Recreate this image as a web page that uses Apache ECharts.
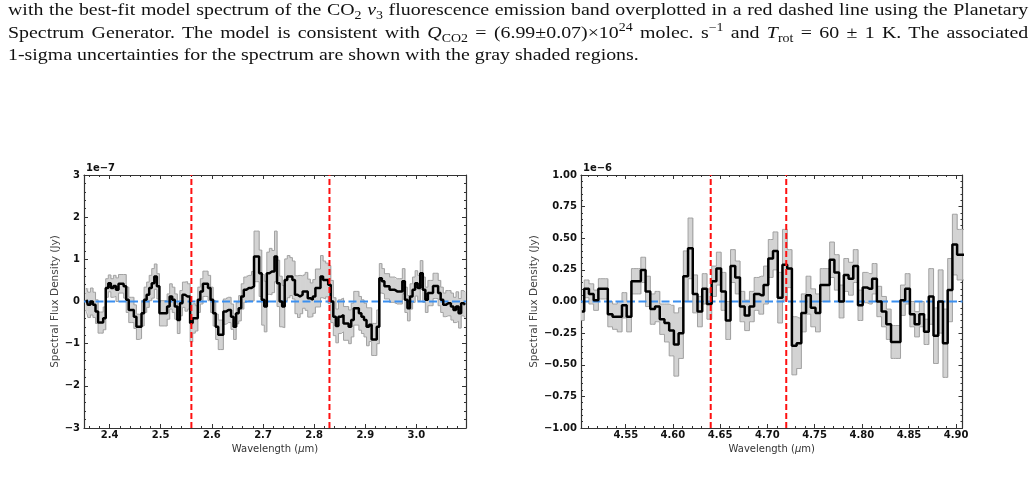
<!DOCTYPE html>
<html>
<head>
<meta charset="UTF-8">
<script src="https://cdn.jsdelivr.net/npm/echarts@6/dist/echarts.min.js"></script>
<style>
  body { margin: 0; background: #fff; }
  #chart { position: absolute; left: 0; top: 0; width: 1035px; height: 483px; }
  #caption { position: absolute; left: 8px; top: -1px; width: 872px; z-index: 2;
             transform: scaleX(1.17); transform-origin: 0 0;
             font-family: "Liberation Serif", serif; font-size: 17px; line-height: 22.5px; color: #111; }
  #caption div { white-space: nowrap; }
  #caption .j { text-align: justify; text-align-last: justify; white-space: normal; }
  #caption sub, #caption sup { font-size: 70%; line-height: 0; }
</style>
</head>
<body>
<div id="chart"></div>
<div id="caption">
  <div class="j">with the best-fit model spectrum of the CO<sub>2</sub> <i>ν</i><sub>3</sub> fluorescence emission band overplotted in a red dashed line using the Planetary</div>
  <div class="j">Spectrum Generator. The model is consistent with <i>Q</i><sub>CO2</sub> = (6.99±0.07)×10<sup>24</sup> molec. s<sup>−1</sup> and <i>T</i><sub>rot</sub> = 60 ± 1 K. The associated</div>
  <div>1-sigma uncertainties for the spectrum are shown with the gray shaded regions.</div>
</div>
<script type="text/javascript">
// left panel: wavelength (um), flux and 1-sigma in units of 1e-7 Jy
var leftWave = [
  2.355, 2.360, 2.365, 2.370, 2.375, 2.380, 2.385, 2.390, 2.395, 2.400,
  2.405, 2.410, 2.415, 2.420, 2.425, 2.430, 2.435, 2.440, 2.445, 2.450,
  2.455, 2.460, 2.465, 2.470, 2.475, 2.480, 2.485, 2.490, 2.495, 2.500,
  2.505, 2.510, 2.515, 2.520, 2.525, 2.530, 2.535, 2.540, 2.545, 2.550,
  2.555, 2.560, 2.565, 2.570, 2.575, 2.580, 2.585, 2.590, 2.595, 2.600,
  2.605, 2.610, 2.615, 2.620, 2.625, 2.630, 2.635, 2.640, 2.645, 2.650,
  2.655, 2.660, 2.665, 2.670, 2.675, 2.680, 2.685, 2.690, 2.695, 2.700,
  2.705, 2.710, 2.715, 2.720, 2.725, 2.730, 2.735, 2.740, 2.745, 2.750,
  2.755, 2.760, 2.765, 2.770, 2.775, 2.780, 2.785, 2.790, 2.795, 2.800,
  2.805, 2.810, 2.815, 2.820, 2.825, 2.830, 2.835, 2.840, 2.845, 2.850,
  2.855, 2.860, 2.865, 2.870, 2.875, 2.880, 2.885, 2.890, 2.895, 2.900,
  2.905, 2.910, 2.915, 2.920, 2.925, 2.930, 2.935, 2.940, 2.945, 2.950,
  2.955, 2.960, 2.965, 2.970, 2.975, 2.980, 2.985, 2.990, 2.995, 3.000,
  3.005, 3.010, 3.015, 3.020, 3.025, 3.030, 3.035, 3.040, 3.045, 3.050,
  3.055, 3.060, 3.065, 3.070, 3.075, 3.080, 3.085, 3.090, 3.095
];
var leftFlux = [
  0.04, -0.08, 0.0, -0.08, -0.24, -0.5, -0.5, -0.4, 0.32, 0.43,
  0.32, 0.37, 0.28, 0.42, 0.42, 0.36, 0.04, -0.2, -0.2, -0.36,
  -0.6, -0.6, -0.28, 0.04, 0.16, 0.32, 0.43, 0.59, 0.36, -0.28,
  -0.28, -0.28, -0.12, 0.12, 0.04, -0.12, -0.44, -0.04, 0.16, 0.12,
  0.12, -0.51, -0.4, -0.4, 0.04, 0.24, 0.42, 0.42, 0.32, 0.04,
  -0.28, -0.6, -0.79, -0.79, -0.24, -0.2, -0.2, -0.36, -0.6, -0.28,
  -0.16, 0.12, 0.28, 0.32, 0.32, 0.36, 1.07, 1.07, 0.67, 0.04,
  -0.12, 0.67, 0.71, 0.71, 1.07, 0.43, 0.0, -0.12, 0.51, 0.59,
  0.59, 0.51, 0.16, 0.12, 0.16, 0.24, 0.24, 0.08, 0.04, 0.12,
  0.32, 0.32, 0.59, 0.51, 0.51, 0.4, 0.0, -0.36, -0.58, -0.36,
  -0.32, -0.52, -0.52, -0.6, -0.44, -0.16, -0.16, -0.28, -0.36, -0.44,
  -0.6, -0.55, -0.9, -0.9, -0.6, 0.55, 0.48, 0.36, 0.36, 0.28,
  0.28, 0.24, 0.24, 0.24, 0.48, 0.04, -0.16, 0.12, 0.28, 0.43,
  0.32, 0.67, 0.28, 0.04, 0.2, 0.2, 0.37, 0.37, 0.2, 0.04,
  -0.08, -0.04, -0.04, -0.12, -0.2, -0.12, -0.28, -0.04, -0.08
];
var leftErr = [
  0.28, 0.3, 0.32, 0.3, 0.28, 0.25, 0.25, 0.27, 0.22, 0.2,
  0.22, 0.25, 0.28, 0.22, 0.22, 0.28, 0.3, 0.3, 0.3, 0.28,
  0.3, 0.28, 0.3, 0.3, 0.3, 0.3, 0.35, 0.3, 0.3, 0.3,
  0.3, 0.3, 0.3, 0.3, 0.3, 0.3, 0.32, 0.3, 0.3, 0.35,
  0.3, 0.45, 0.35, 0.3, 0.3, 0.3, 0.3, 0.3, 0.3, 0.3,
  0.3, 0.3, 0.35, 0.35, 0.3, 0.3, 0.3, 0.3, 0.3, 0.25,
  0.3, 0.3, 0.3, 0.3, 0.3, 0.35, 0.6, 0.6, 0.55, 0.6,
  0.6, 0.5, 0.55, 0.5, 0.6, 0.55, 0.6, 0.5, 0.5, 0.5,
  0.45, 0.45, 0.45, 0.5, 0.45, 0.4, 0.45, 0.45, 0.4, 0.4,
  0.45, 0.45, 0.5, 0.45, 0.4, 0.45, 0.5, 0.45, 0.4, 0.4,
  0.4, 0.4, 0.4, 0.4, 0.4, 0.4, 0.4, 0.4, 0.4, 0.4,
  0.45, 0.4, 0.38, 0.38, 0.4, 0.35, 0.3, 0.3, 0.3, 0.3,
  0.3, 0.3, 0.3, 0.3, 0.3, 0.3, 0.3, 0.3, 0.3, 0.3,
  0.3, 0.3, 0.3, 0.3, 0.3, 0.3, 0.3, 0.3, 0.3, 0.3,
  0.28, 0.3, 0.3, 0.32, 0.3, 0.35, 0.35, 0.3, 0.3
];
var leftBand = [2.56, 2.83];
var leftRange = [2.35, 3.097];

// right panel: wavelength (um), flux and 1-sigma in units of 1e-6 Jy
var rightWave = [
  4.5035, 4.5085, 4.5135, 4.5185, 4.5235, 4.5285, 4.5335, 4.5385, 4.5435, 4.5485,
  4.5535, 4.5585, 4.5635, 4.5685, 4.5735, 4.5785, 4.5835, 4.5885, 4.5935, 4.5985,
  4.6035, 4.6085, 4.6135, 4.6185, 4.6235, 4.6285, 4.6335, 4.6385, 4.6435, 4.6485,
  4.6535, 4.6585, 4.6635, 4.6685, 4.6735, 4.6785, 4.6835, 4.6885, 4.6935, 4.6985,
  4.7035, 4.7085, 4.7135, 4.7185, 4.7235, 4.7285, 4.7335, 4.7385, 4.7435, 4.7485,
  4.7535, 4.7585, 4.7635, 4.7685, 4.7735, 4.7785, 4.7835, 4.7885, 4.7935, 4.7985,
  4.8035, 4.8085, 4.8135, 4.8185, 4.8235, 4.8285, 4.8335, 4.8385, 4.8435, 4.8485,
  4.8535, 4.8585, 4.8635, 4.8685, 4.8735, 4.8785, 4.8835, 4.8885, 4.8935, 4.8985,
  4.9035, 4.9085
];
var rightFlux = [
  -0.08, 0.10, 0.06, 0.01, 0.10, 0.10, -0.10, -0.12, -0.12, -0.03,
  -0.12, 0.16, 0.16, 0.25, 0.08, -0.06, -0.04, -0.14, -0.17, -0.23,
  -0.34, -0.25, 0.20, 0.42, 0.06, -0.08, 0.10, -0.02, 0.16, 0.26,
  0.08, -0.15, 0.28, 0.19, -0.04, -0.11, -0.04, 0.06, 0.05, 0.13,
  0.34, 0.40, 0.03, 0.29, 0.26, -0.35, -0.33, -0.09, 0.05, -0.05,
  -0.09, 0.13, 0.13, 0.33, 0.23, 0.0, 0.21, 0.18, 0.28, -0.03,
  0.11, 0.10, 0.18, 0.0, -0.08, -0.18, -0.32, -0.32, 0.01, 0.10,
  -0.10, -0.18, -0.10, -0.24, 0.04, -0.27, 0.0, -0.33, 0.09, 0.45,
  0.37, 0.37
];
var rightErr = [
  0.07, 0.07, 0.08, 0.08, 0.08, 0.08, 0.1, 0.1, 0.12, 0.1,
  0.12, 0.1, 0.1, 0.1, 0.12, 0.12, 0.12, 0.12, 0.15, 0.2,
  0.25, 0.2, 0.2, 0.24, 0.15, 0.12, 0.12, 0.12, 0.12, 0.13,
  0.15, 0.15, 0.13, 0.13, 0.12, 0.12, 0.12, 0.13, 0.15, 0.15,
  0.15, 0.15, 0.2, 0.28, 0.15, 0.23, 0.2, 0.15, 0.15, 0.15,
  0.15, 0.13, 0.13, 0.14, 0.14, 0.13, 0.13, 0.13, 0.13, 0.12,
  0.12, 0.12, 0.12, 0.12, 0.12, 0.12, 0.13, 0.13, 0.12, 0.12,
  0.1, 0.1, 0.1, 0.1, 0.22, 0.22, 0.25, 0.27, 0.25, 0.24,
  0.2, 0.2
];
var rightBand = [4.64, 4.72];
var rightRange = [4.5026, 4.9067];

var binHalf = 0.0025;
var frameColor = '#333';
var tickFont = 'DejaVu Sans';

function minus(s) { return String(s).replace('-', '\u2212'); }

function xAxisPair(grid, range, split, fmt) {
  var base = {
    gridIndex: grid, type: 'value', min: range[0], max: range[1], splitNumber: split,
    splitLine: { show: false },
    axisLine: { onZero: false, lineStyle: { color: frameColor, width: 1.2 } },
    axisTick: { inside: true, length: 4, lineStyle: { color: frameColor } },
    minorTick: { show: true, splitNumber: 5, length: 2, lineStyle: { color: frameColor } }
  };
  var bottom = echarts.util.merge({
    position: 'bottom',
    name: '{n|Wavelength (}{i|μ}{n|m)}', nameLocation: 'middle', nameGap: 9,
    nameTextStyle: { rich: {
      n: { fontFamily: tickFont, fontSize: 10, color: '#333' },
      i: { fontFamily: tickFont, fontSize: 10, color: '#333', fontStyle: 'italic' } } },
    axisLabel: { margin: 2, fontFamily: tickFont, fontWeight: 'bold', fontSize: 10, color: '#111',
      showMinLabel: false, showMaxLabel: false, formatter: fmt }
  }, base, true);
  var top = echarts.util.merge({ position: 'top', axisLabel: { show: false } }, base, true);
  return [bottom, top];
}

function yAxisPair(grid, min, max, step, fmt, gap) {
  var base = {
    gridIndex: grid, type: 'value', min: min, max: max, interval: step,
    splitLine: { show: false },
    axisLine: { onZero: false, lineStyle: { color: frameColor, width: 1.2 } },
    axisTick: { inside: true, length: 4, lineStyle: { color: frameColor } },
    minorTick: { show: true, splitNumber: 5, length: 2, lineStyle: { color: frameColor } }
  };
  var left = echarts.util.merge({
    position: 'left',
    name: 'Spectral Flux Density (Jy)', nameLocation: 'middle', nameGap: gap,
    nameTextStyle: { fontFamily: tickFont, fontSize: 10.5, color: '#444' },
    axisLabel: { margin: 4, fontFamily: tickFont, fontWeight: 'bold', fontSize: 10, color: '#111', formatter: fmt }
  }, base, true);
  var right = echarts.util.merge({ position: 'right', axisLabel: { show: false } }, base, true);
  return [left, right];
}

function panelSeries(xi, yi, wave, flux, err, band, range, ymin, ymax) {
  var bandData = wave.map(function (w, i) { return [w, flux[i] - err[i], flux[i] + err[i]]; });
  var upper = wave.map(function (w, i) { return [w, flux[i] + err[i]]; });
  var lower = wave.map(function (w, i) { return [w, flux[i] - err[i]]; });
  var line = wave.map(function (w, i) { return [w, flux[i]]; });
  var list = [
    {
      type: 'custom', xAxisIndex: xi, yAxisIndex: yi, z: 1, silent: true,
      data: bandData, encode: { x: 0, y: [1, 2] },
      renderItem: function (params, api) {
        var p0 = api.coord([api.value(0) - binHalf, api.value(2)]);
        var p1 = api.coord([api.value(0) + binHalf, api.value(1)]);
        var cs = params.coordSys;
        var r = echarts.graphic.clipRectByRect(
          { x: p0[0], y: p0[1], width: p1[0] - p0[0] + 0.6, height: p1[1] - p0[1] },
          { x: cs.x, y: cs.y, width: cs.width, height: cs.height });
        return r ? { type: 'rect', shape: r, style: { fill: '#d3d3d3' } } : null;
      }
    },
    { type: 'line', xAxisIndex: xi, yAxisIndex: yi, z: 2, data: upper, step: 'middle', symbol: 'none',
      silent: true, lineStyle: { color: '#a2a2a2', width: 1 } },
    { type: 'line', xAxisIndex: xi, yAxisIndex: yi, z: 2, data: lower, step: 'middle', symbol: 'none',
      silent: true, lineStyle: { color: '#a2a2a2', width: 1 } },
    { type: 'line', xAxisIndex: xi, yAxisIndex: yi, z: 3, data: [[range[0], 0], [range[1], 0]], symbol: 'none',
      silent: true, lineStyle: { color: '#3a8ff0', width: 2, type: [8, 3.5] } },
    { type: 'line', xAxisIndex: xi, yAxisIndex: yi, z: 4, data: line, step: 'middle', symbol: 'none',
      silent: true, lineStyle: { color: '#000', width: 2.5 } }
  ];
  band.forEach(function (b) {
    list.push({ type: 'line', xAxisIndex: xi, yAxisIndex: yi, z: 6, data: [[b, ymin], [b, ymax]], symbol: 'none',
      silent: true, lineStyle: { color: '#ff1010', width: 2, type: [6, 3] } });
  });
  return list;
}

var chart = echarts.init(document.getElementById('chart'), null, { renderer: 'canvas' });

var xl = xAxisPair(0, leftRange, 7, function (v) { return v.toFixed(1); });
var xr = xAxisPair(1, rightRange, 8, function (v) { return v.toFixed(2); });
var yl = yAxisPair(0, -3, 3, 1, function (v) { return minus(v); }, 18);
var yr = yAxisPair(1, -1, 1, 0.25, function (v) { return minus(v.toFixed(2)); }, 36);

var option = {
  backgroundColor: '#fff',
  animation: false,
  grid: [
    { left: 84, top: 175, width: 382, height: 253 },
    { left: 581, top: 175, width: 381.5, height: 253 }
  ],
  xAxis: [xl[0], xl[1], xr[0], xr[1]],
  yAxis: [yl[0], yl[1], yr[0], yr[1]],
  graphic: [
    { type: 'text', left: 86, top: 163, style: { text: '1e\u22127', font: 'bold 10px "DejaVu Sans"', fill: '#111' } },
    { type: 'text', left: 583, top: 163, style: { text: '1e\u22126', font: 'bold 10px "DejaVu Sans"', fill: '#111' } }
  ],
  series: []
    .concat(panelSeries(0, 0, leftWave, leftFlux, leftErr, leftBand, leftRange, -3, 3))
    .concat(panelSeries(2, 2, rightWave, rightFlux, rightErr, rightBand, rightRange, -1, 1))
};

chart.setOption(option);
</script>
</body>
</html>
